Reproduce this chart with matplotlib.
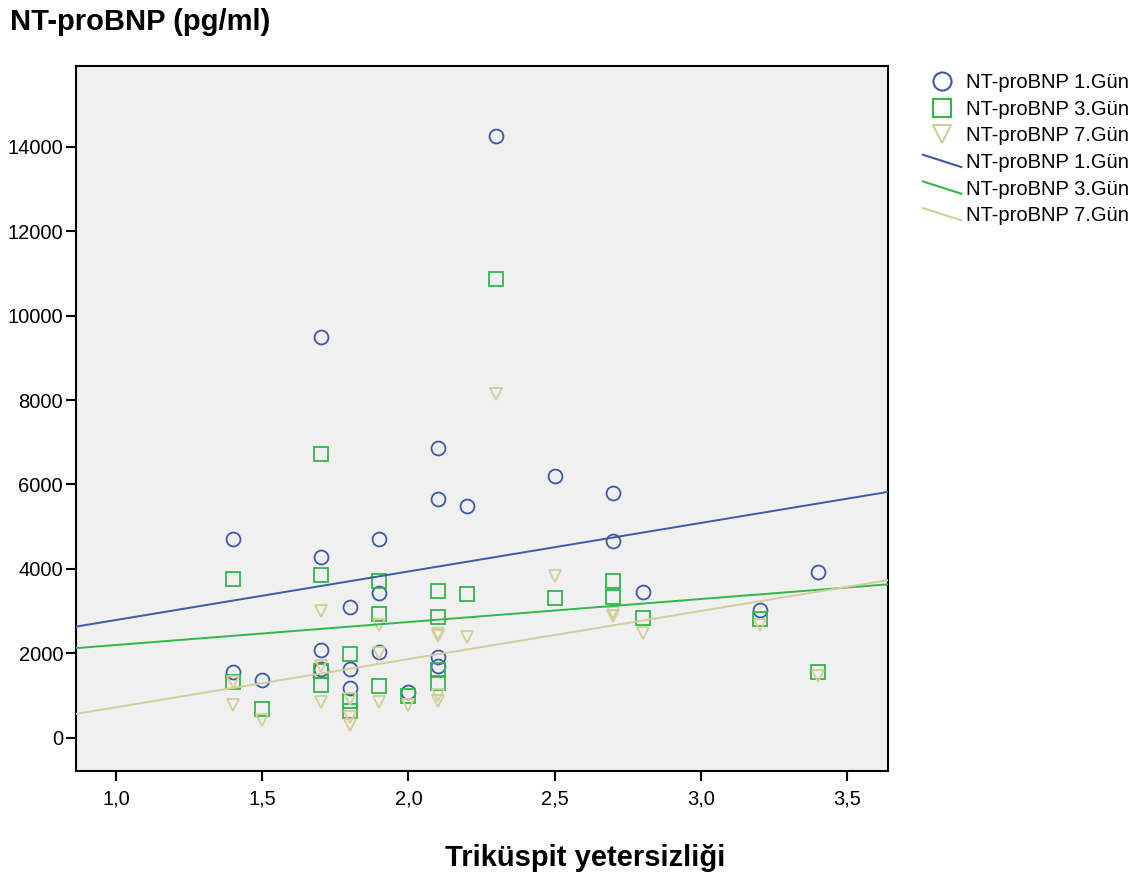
import numpy as np
import matplotlib
matplotlib.use("Agg")
import matplotlib.pyplot as plt
from matplotlib.lines import Line2D
from matplotlib.legend_handler import HandlerBase

plt.rcParams['font.family'] = ['Liberation Sans', 'DejaVu Sans']

# ---- data ----
x_day1 = [1.4, 1.4, 1.5, 1.7, 1.7, 1.7, 1.7, 1.8, 1.8, 1.8, 1.9, 1.9, 1.9, 2.0,
          2.1, 2.1, 2.1, 2.1, 2.2, 2.3, 2.5, 2.7, 2.7, 2.8, 3.2, 3.4]
y_day1 = [4700, 1550, 1360, 9490, 4280, 2080, 1635, 3090, 1630, 1180, 4710, 3420, 2040, 1080,
          6860, 5660, 1920, 1690, 5480, 14270, 6190, 5790, 4670, 3445, 3020, 3930]

x_day3 = [1.4, 1.4, 1.5, 1.7, 1.7, 1.7, 1.7, 1.8, 1.8, 1.8, 1.9, 1.9, 1.9, 2.0,
          2.1, 2.1, 2.1, 2.1, 2.2, 2.3, 2.5, 2.7, 2.7, 2.8, 3.2, 3.4]
y_day3 = [3770, 1320, 688, 6730, 3855, 1570, 1255, 1990, 860, 623, 3705, 2940, 1215, 980,
          3470, 2870, 1610, 1300, 3410, 10880, 3300, 3705, 3325, 2835, 2810, 1550]

x_day7 = [1.4, 1.4, 1.5, 1.7, 1.7, 1.7, 1.8, 1.8, 1.8, 1.9, 1.9, 1.9, 2.0,
          2.1, 2.1, 2.1, 2.1, 2.2, 2.3, 2.5, 2.7, 2.7, 2.8, 3.2, 3.4]
y_day7 = [1310, 782, 427, 3010, 1690, 837, 917, 497, 308, 2680, 2010, 837, 765,
          2450, 2420, 1000, 860, 2380, 8150, 3840, 2955, 2875, 2480, 2680, 1470]

series_labels = ["NT-proBNP 1.Gün", "NT-proBNP 3.Gün", "NT-proBNP 7.Gün"]
series_colors = ["#3E58AC", "#2EB848", "#D3CE97"]
series_markers = ["o", "s", "v"]
series_msize = [10, 10, 9]

x_ticks = [1.0, 1.5, 2.0, 2.5, 3.0, 3.5]
x_tick_labels = ["1,0", "1,5", "2,0", "2,5", "3,0", "3,5"]
y_ticks = [0, 2000, 4000, 6000, 8000, 10000, 12000, 14000]
y_tick_labels = ["0", "2000", "4000", "6000", "8000", "10000", "12000", "14000"]

title_text = "NT-proBNP (pg/ml)"
xlabel_text = "Triküspit yetersizliği"

# ---- figure ----
fig = plt.figure(figsize=(11.48, 8.76), dpi=100)
ax = fig.add_axes([0.0658, 0.1199, 0.7080, 0.8048])
ax.set_facecolor("#F0F0F0")

xlim = (0.862, 3.64)
ylim = (-790, 15920)

xs = [x_day1, x_day3, x_day7]
ys = [y_day1, y_day3, y_day7]

for x, y, c, m, ms in zip(xs, ys, series_colors, series_markers, series_msize):
    ax.plot(x, y, linestyle="none", marker=m, markersize=ms, markerfacecolor="none",
            markeredgecolor=c, markeredgewidth=1.3, zorder=3)

xx = np.array(xlim)
for x, y, c in zip(xs, ys, series_colors):
    b, a = np.polyfit(x, y, 1)
    ax.plot(xx, a + b * xx, color=c, lw=1.4, zorder=4, solid_capstyle="butt")

ax.set_xlim(*xlim)
ax.set_ylim(*ylim)
ax.set_xticks(x_ticks)
ax.set_xticklabels(x_tick_labels)
ax.set_yticks(y_ticks)
ax.set_yticklabels(y_tick_labels)
ax.tick_params(axis="both", direction="out", length=7, width=1.5, labelsize=14.5,
               colors="black")
ax.tick_params(axis="x", pad=6)
ax.tick_params(axis="y", pad=2)
for sp in ax.spines.values():
    sp.set_linewidth(1.5)
    sp.set_color("black")

fig.text(10 / 1148, 1 - 22 / 876, title_text, fontsize=21, fontweight="bold",
         ha="left", va="center")
fig.text(585 / 1148, 1 - 858 / 876, xlabel_text, fontsize=21, fontweight="bold",
         ha="center", va="center")


class SlantHandler(HandlerBase):
    def create_artists(self, legend, orig_handle, xdescent, ydescent, width,
                       height, fontsize, trans):
        x0 = -xdescent
        x1 = x0 + width
        yc = height / 2 - ydescent
        d = 0.32 * width
        ln = Line2D([x0, x1], [yc + d / 2, yc - d / 2],
                    color=orig_handle.get_color(), lw=orig_handle.get_linewidth())
        ln.set_transform(trans)
        return [ln]


handles = []
for c, m in zip(series_colors, series_markers):
    handles.append(Line2D([], [], linestyle="none", marker=m, markersize=13,
                          markerfacecolor="none", markeredgecolor=c, markeredgewidth=1.5))
line_handles = []
for c in series_colors:
    line_handles.append(Line2D([], [], color=c, lw=1.5))

hmap = {h: SlantHandler() for h in line_handles}
leg = fig.legend(handles + line_handles, series_labels + series_labels,
                 loc="upper left", bbox_to_anchor=(923 / 1148, 1 - 73 / 876),
                 bbox_transform=fig.transFigure, frameon=False, fontsize=14.5,
                 handlelength=1.9, handletextpad=0.25, labelspacing=0.38,
                 borderpad=0, borderaxespad=0, handler_map=hmap)

fig.savefig("out.png", dpi=100)
